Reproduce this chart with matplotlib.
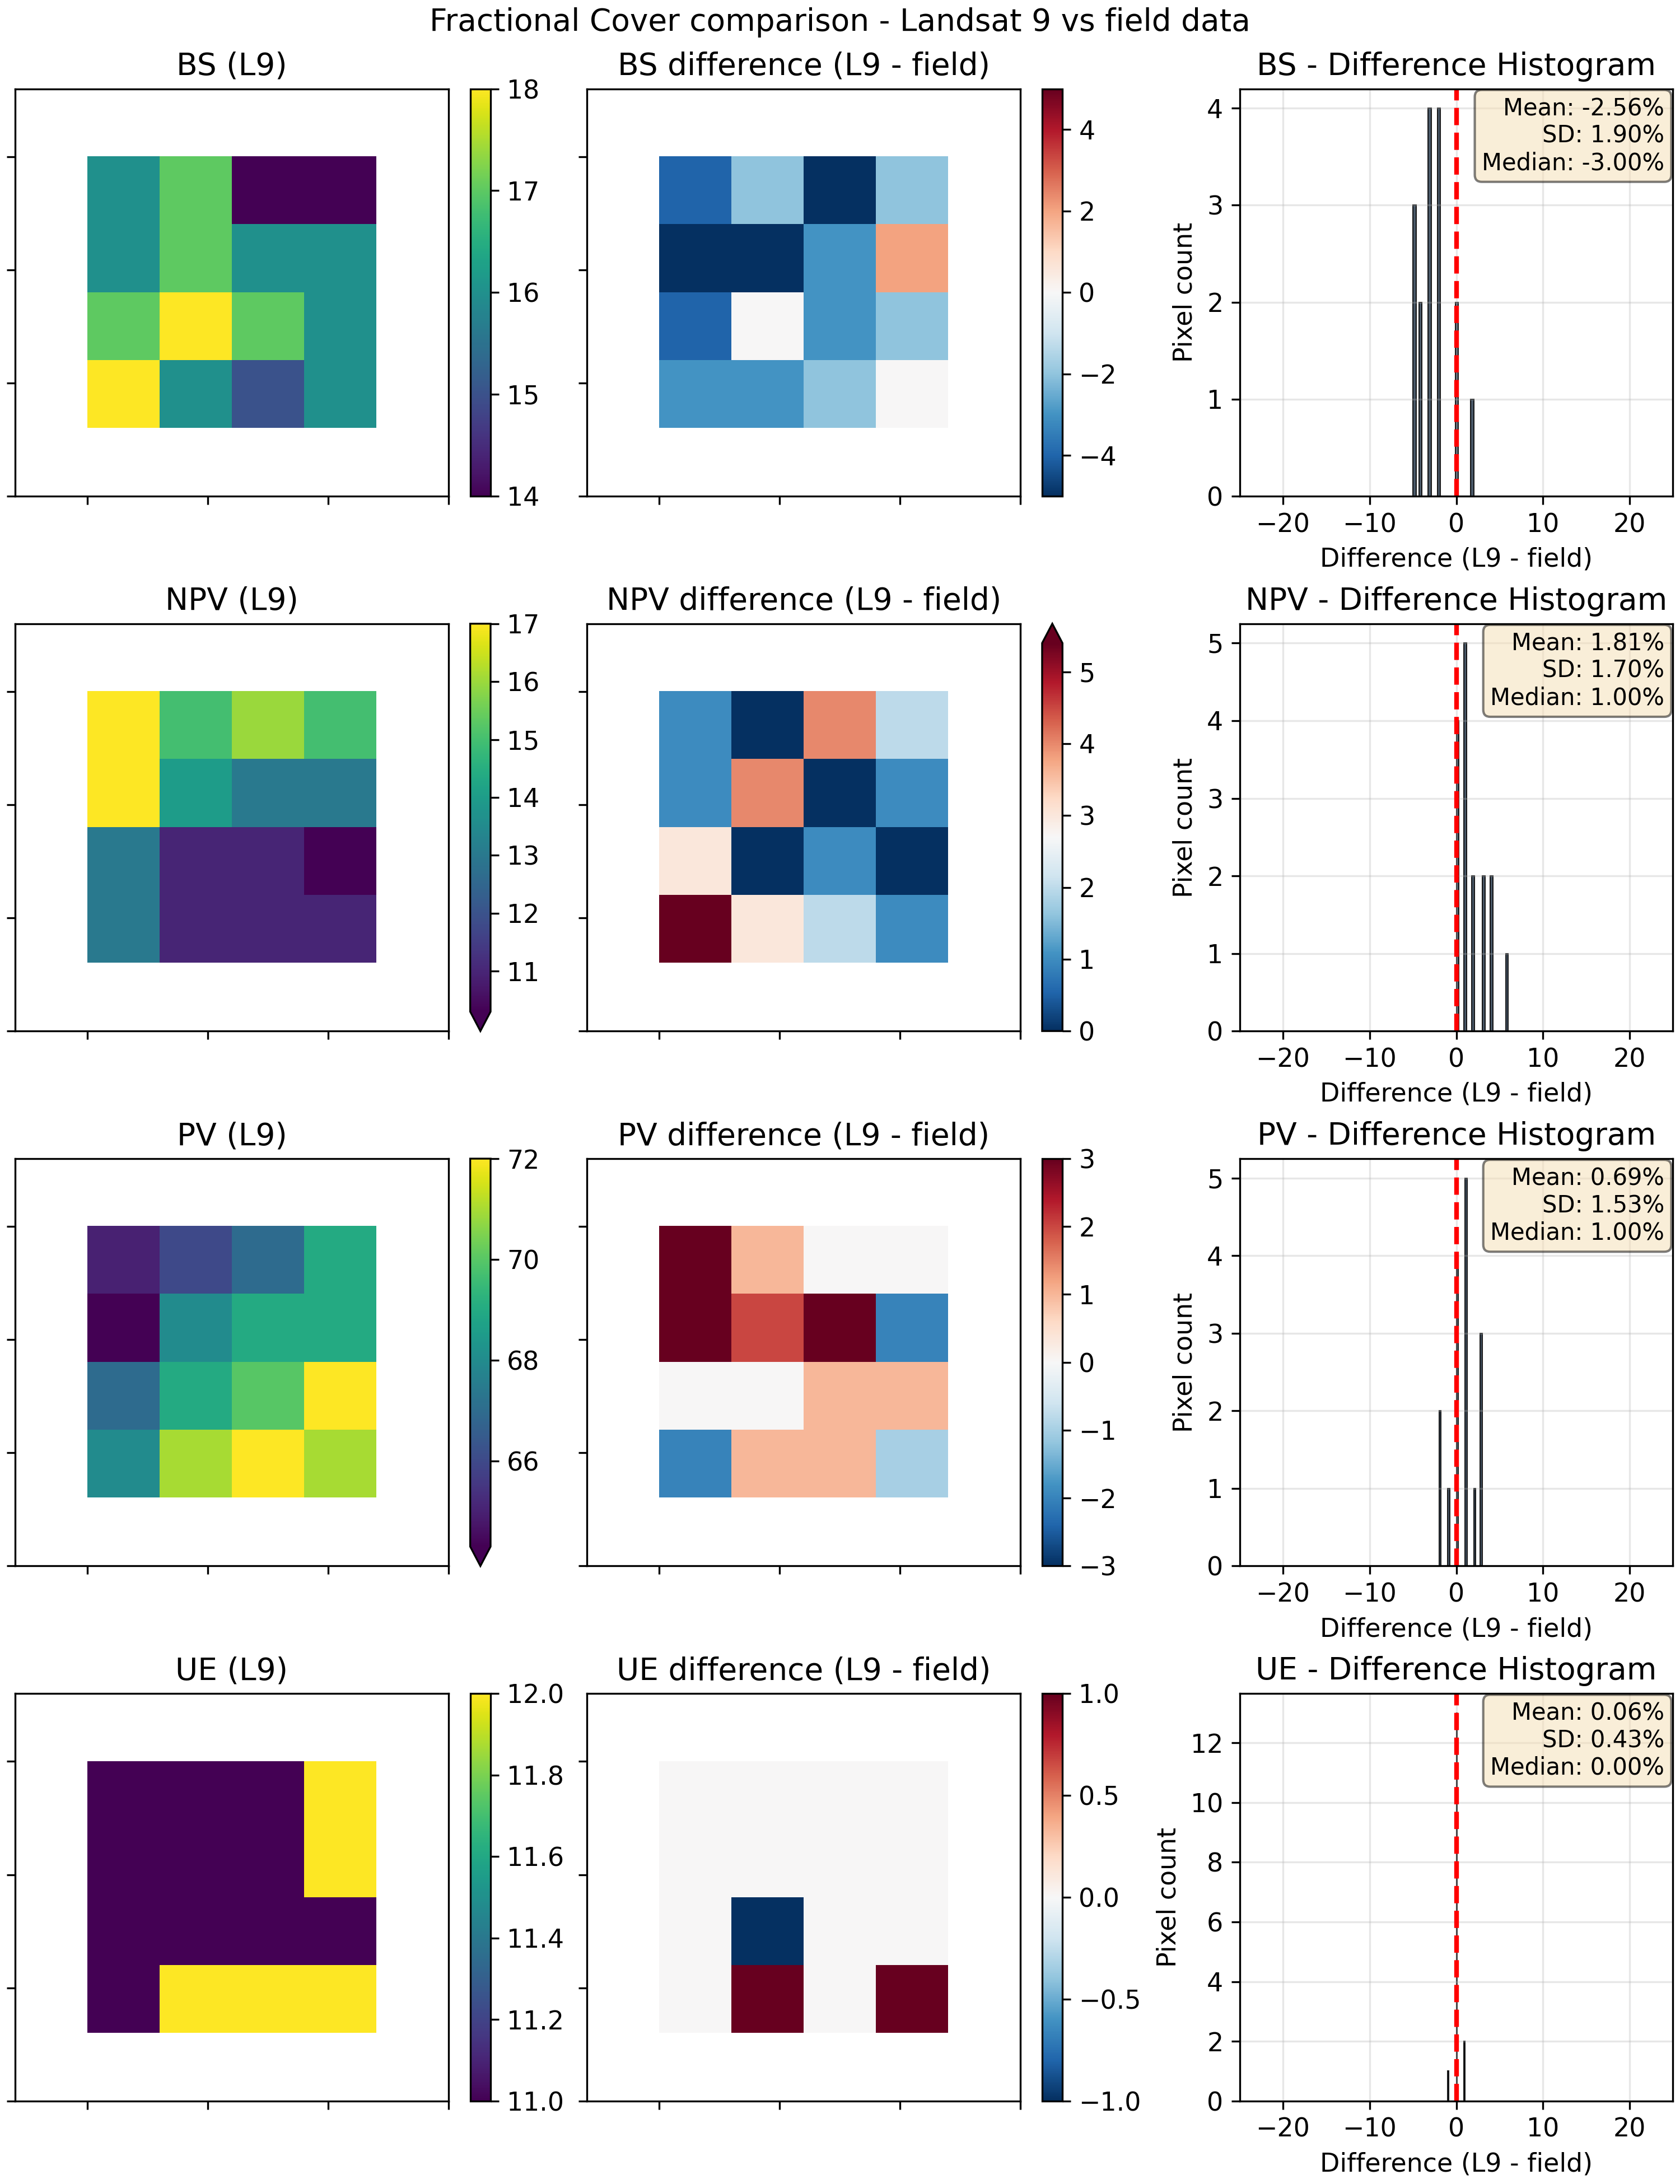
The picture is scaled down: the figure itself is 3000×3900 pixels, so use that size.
import numpy as np
import matplotlib
matplotlib.use("Agg")
from matplotlib import pyplot as plt
from matplotlib.ticker import MultipleLocator


plt.rcParams["font.size"] = 11

components = ["BS", "NPV", "PV", "UE"]

# Landsat 9 fractional cover (%) over the 4x4 block of field pixels
bs_l9 = [[16, 17, 14, 14],
         [16, 17, 16, 16],
         [17, 18, 17, 16],
         [18, 16, 15, 16]]
npv_l9 = [[17, 15, 16, 15],
          [17, 14, 13, 13],
          [13, 11, 11, 10],
          [13, 11, 11, 11]]
pv_l9 = [[65, 66, 67, 69],
         [64, 68, 69, 69],
         [67, 69, 70, 72],
         [68, 71, 72, 71]]
ue_l9 = [[11, 11, 11, 12],
         [11, 11, 11, 12],
         [11, 11, 11, 11],
         [11, 12, 12, 12]]

# L9 - field
bs_diff = [[-4, -2, -5, -2],
           [-5, -5, -3, 2],
           [-4, 0, -3, -2],
           [-3, -3, -2, 0]]
npv_diff = [[1, 0, 4, 2],
            [1, 4, 0, 1],
            [3, 0, 1, 0],
            [6, 3, 2, 1]]
pv_diff = [[3, 1, 0, 0],
           [3, 2, 3, -2],
           [0, 0, 1, 1],
           [-2, 1, 1, -1]]
ue_diff = [[0, 0, 0, 0],
           [0, 0, 0, 0],
           [0, -1, 0, 0],
           [0, 1, 0, 1]]

l9_all = [bs_l9, npv_l9, pv_l9, ue_l9]
diff_all = [bs_diff, npv_diff, pv_diff, ue_diff]

# raster georeference (30 m Landsat pixels, one nodata pixel round the block)
pixel = 30
x0, y0 = 20, 0


def padded(v):
    return np.pad(np.array(v, dtype=float), 1, constant_values=np.nan)


def extend_for(data, vmin, vmax):
    lo = np.nanmin(data) < vmin
    hi = np.nanmax(data) > vmax
    if lo and hi:
        return "both"
    if lo:
        return "min"
    if hi:
        return "max"
    return "neither"


def show_raster(ax, data, cmap, vmin, vmax, title):
    n = data.shape[0]
    extent = [x0, x0 + n * pixel, y0, y0 + n * pixel]
    im = ax.imshow(data, cmap=cmap, vmin=vmin, vmax=vmax,
                   extent=extent, aspect="auto", interpolation="nearest")
    ax.xaxis.set_major_locator(MultipleLocator(50))
    ax.yaxis.set_major_locator(MultipleLocator(50))
    ax.set_xticklabels([])
    ax.set_yticklabels([])
    ax.set_title(title)
    plt.colorbar(im, ax=ax, extend=extend_for(data, vmin, vmax))


fig, axes = plt.subplots(4, 3, figsize=(10, 13), layout="constrained")

for i, comp in enumerate(components):
    l9 = padded(l9_all[i])
    diff = padded(diff_all[i])

    vmin, vmax = np.nanpercentile(l9, [2, 98])
    show_raster(axes[i, 0], l9, "viridis", vmin, vmax, f"{comp} (L9)")

    dmin, dmax = np.nanpercentile(diff, [2, 98])
    if dmin < 0 < dmax:
        lim = max(abs(dmin), abs(dmax))
        dmin, dmax = -lim, lim
    show_raster(axes[i, 1], diff, "RdBu_r", dmin, dmax,
                f"{comp} difference (L9 - field)")

    vals = diff[~np.isnan(diff)]
    ax = axes[i, 2]
    ax.hist(vals, bins=20, color="#2c3e50", edgecolor="black",
            linewidth=0.5, alpha=0.85)
    ax.axvline(0, color="red", linestyle="--", linewidth=2)
    ax.set_xlim(-25, 25)
    ax.set_xlabel("Difference (L9 - field)")
    ax.set_ylabel("Pixel count")
    ax.set_title(f"{comp} - Difference Histogram")
    ax.grid(True, alpha=0.3)
    stats = (f"Mean: {np.mean(vals):.2f}%\n"
             f"SD: {np.std(vals):.2f}%\n"
             f"Median: {np.median(vals):.2f}%")
    ax.text(0.98, 0.98, stats, transform=ax.transAxes, ha="right", va="top",
            fontsize=10, bbox=dict(boxstyle="round", facecolor="wheat", alpha=0.5))

plt.suptitle("Fractional Cover comparison - Landsat 9 vs field data")
plt.savefig("out.png", dpi=300)
